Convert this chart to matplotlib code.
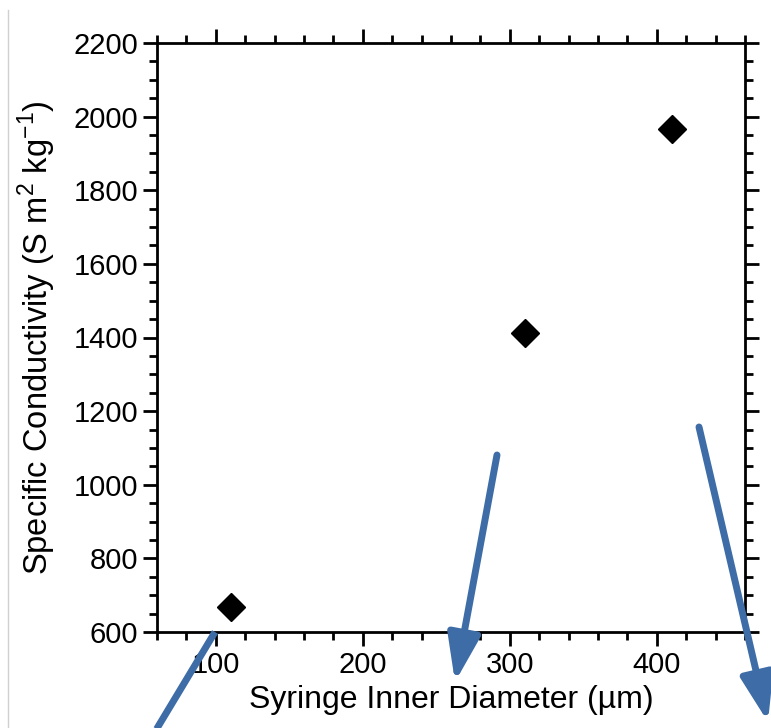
import matplotlib.pyplot as plt
from matplotlib.patches import FancyArrowPatch
from matplotlib.lines import Line2D
from matplotlib.ticker import MultipleLocator

plt.rcParams['font.family'] = ['Liberation Sans', 'DejaVu Sans']
plt.rcParams['mathtext.fontset'] = 'custom'
plt.rcParams['mathtext.rm'] = 'Liberation Sans'

# data
diameter = [110, 310, 410]
conductivity = [668, 1412, 1966]

fig = plt.figure(figsize=(7.71, 7.28), dpi=100)
ax = fig.add_axes([157 / 771, 1 - 632 / 728, (745 - 157) / 771, (632 - 43) / 728])

ax.plot(diameter, conductivity, 'D', color='black', markersize=14.5, zorder=3)

ax.set_xlim(60, 460)
ax.set_ylim(600, 2200)
ax.xaxis.set_major_locator(MultipleLocator(100))
ax.xaxis.set_minor_locator(MultipleLocator(20))
ax.yaxis.set_major_locator(MultipleLocator(200))
ax.yaxis.set_minor_locator(MultipleLocator(50))

for s in ax.spines.values():
    s.set_linewidth(2)
ax.tick_params(which='both', direction='out', top=True, right=True, width=2, labelsize=21)
ax.tick_params(which='major', length=10)
ax.tick_params(which='minor', length=6)

ax.set_xlabel('Syringe Inner Diameter (µm)', fontsize=23)
ax.set_ylabel('Specific Conductivity (S m$^2$ kg$^{-1}$)', fontsize=23.5)
ax.xaxis.set_label_coords(0.5, -0.09)
ax.yaxis.set_label_coords(-0.168, 0.5)

# blue arrows overlaid on the figure (pixel positions -> figure fractions)
def fpos(x, y):
    return (x / 771, 1 - y / 728)

blue = '#3E6CA6'
fig.add_artist(Line2D([215 / 771, 150 / 771], [1 - 632 / 728, 1 - 740 / 728],
                      transform=fig.transFigure, color=blue, lw=5, solid_capstyle='butt'))
for a, b in [((497, 455), (455, 682)), ((699, 427), (768, 722))]:
    fig.add_artist(FancyArrowPatch(fpos(*a), fpos(*b), transform=fig.transFigure,
                                   arrowstyle='-|>,head_width=0.45,head_length=1.3',
                                   mutation_scale=22, color=blue, lw=5, shrinkA=0, shrinkB=0))

# faint page edge on the left
fig.add_artist(Line2D([8 / 771, 8 / 771], [1 - 10 / 728, 0], transform=fig.transFigure,
                      color='#d0d0d0', lw=1))

fig.savefig('out.png', dpi=100)
